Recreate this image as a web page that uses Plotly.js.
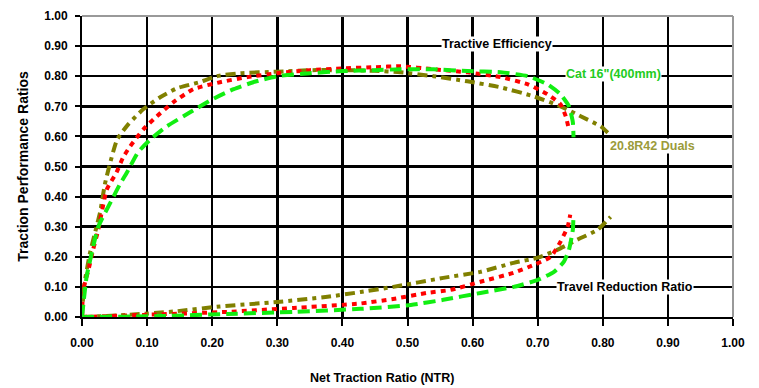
<!DOCTYPE html>
<html>
<head>
<meta charset="utf-8">
<script src="https://cdn.plot.ly/plotly-3.0.1.min.js"></script>
<style>html,body{margin:0;padding:0;background:#fff;}#chart{width:759px;height:388px;}</style>
</head>
<body>
<div id="chart"></div>
<script>
// Tractive efficiency curves
const duals_te_x = [0, 0.003, 0.012, 0.02, 0.028, 0.035, 0.043, 0.054, 0.071, 0.094, 0.12, 0.146, 0.18, 0.207, 0.243, 0.30, 0.35, 0.40, 0.45, 0.489, 0.54, 0.592, 0.643, 0.694, 0.735, 0.766, 0.797, 0.81];
const duals_te_y = [0, 0.10, 0.21, 0.28, 0.35, 0.44, 0.51, 0.59, 0.64, 0.69, 0.73, 0.76, 0.78, 0.80, 0.81, 0.815, 0.82, 0.82, 0.818, 0.813, 0.80, 0.783, 0.763, 0.733, 0.70, 0.667, 0.633, 0.607];
const red_te_x = [0, 0.002, 0.01, 0.017, 0.025, 0.038, 0.053, 0.063, 0.074, 0.094, 0.115, 0.14, 0.171, 0.212, 0.254, 0.30, 0.35, 0.40, 0.45, 0.489, 0.54, 0.592, 0.643, 0.685, 0.715, 0.735, 0.743, 0.748];
const red_te_y = [0, 0.09, 0.157, 0.223, 0.29, 0.423, 0.48, 0.53, 0.567, 0.623, 0.667, 0.713, 0.757, 0.78, 0.797, 0.81, 0.82, 0.826, 0.83, 0.833, 0.823, 0.813, 0.797, 0.773, 0.74, 0.707, 0.667, 0.623];
const cat_te_x = [0, 0.007, 0.015, 0.025, 0.046, 0.058, 0.069, 0.086, 0.105, 0.13, 0.166, 0.20, 0.233, 0.263, 0.30, 0.35, 0.40, 0.45, 0.489, 0.54, 0.592, 0.643, 0.685, 0.715, 0.735, 0.748, 0.754, 0.755];
const cat_te_y = [0, 0.133, 0.213, 0.30, 0.39, 0.44, 0.48, 0.547, 0.59, 0.633, 0.68, 0.723, 0.757, 0.78, 0.80, 0.81, 0.817, 0.82, 0.823, 0.823, 0.817, 0.813, 0.80, 0.773, 0.74, 0.70, 0.647, 0.597];
// Travel reduction curves
const duals_tr_x = [0, 0.069, 0.14, 0.212, 0.30, 0.377, 0.428, 0.478, 0.555, 0.612, 0.663, 0.70, 0.73, 0.761, 0.792, 0.812];
const duals_tr_y = [0, 0.007, 0.018, 0.035, 0.05, 0.067, 0.083, 0.10, 0.13, 0.15, 0.18, 0.197, 0.223, 0.257, 0.29, 0.333];
const red_tr_x = [0, 0.094, 0.223, 0.325, 0.428, 0.478, 0.53, 0.566, 0.612, 0.663, 0.694, 0.72, 0.735, 0.746, 0.75];
const red_tr_y = [0, 0.007, 0.017, 0.03, 0.045, 0.06, 0.08, 0.09, 0.117, 0.147, 0.173, 0.20, 0.25, 0.30, 0.34];
const cat_tr_x = [0, 0.12, 0.223, 0.325, 0.428, 0.505, 0.555, 0.612, 0.663, 0.70, 0.725, 0.74, 0.748, 0.754, 0.755];
const cat_tr_y = [0, 0.003, 0.01, 0.017, 0.027, 0.04, 0.057, 0.08, 0.10, 0.123, 0.15, 0.183, 0.223, 0.29, 0.34];

const labels = {
  te: 'Tractive Efficiency',
  tr: 'Travel Reduction Ratio',
  cat: 'Cat 16"(400mm)',
  duals: '20.8R42 Duals',
  xTitle: 'Net Traction Ratio (NTR)',
  yTitle: 'Traction Performance Ratios'
};

const OLIVE = '#808000', RED = '#ff0000', GREEN = '#11ee11';
const styleOlive = {color: OLIVE, width: 4, dash: '10px,5px,4px,5px', shape: 'spline', smoothing: 0.5};
const styleRed = {color: RED, width: 4, dash: '5px,5px', shape: 'spline', smoothing: 0.5};
const styleGreen = {color: GREEN, width: 4, dash: '12px,6px', shape: 'spline', smoothing: 0.5};

const traces = [
  {x: duals_tr_x, y: duals_tr_y, line: styleOlive},
  {x: red_tr_x, y: red_tr_y, line: styleRed},
  {x: cat_tr_x, y: cat_tr_y, line: styleGreen},
  {x: duals_te_x, y: duals_te_y, line: styleOlive},
  {x: red_te_x, y: red_te_y, line: styleRed},
  {x: cat_te_x, y: cat_te_y, line: styleGreen}
].map(t => Object.assign({type: 'scatter', mode: 'lines', hoverinfo: 'skip'}, t));

const FONT = 'Liberation Sans, Arial, sans-serif';
const tickFont = {family: FONT, size: 12, weight: 'bold', color: '#000'};
const annFont = (c) => ({family: FONT, size: 12.5, weight: 'bold', color: c});
const layout = {
  width: 759, height: 388,
  margin: {l: 82, r: 26, t: 16, b: 71},
  paper_bgcolor: '#fff', plot_bgcolor: '#fff',
  showlegend: false,
  font: {family: FONT, color: '#000', size: 12},
  xaxis: {
    range: [0, 1], dtick: 0.1, tick0: 0, tickformat: '.2f',
    showgrid: true, gridcolor: '#000', gridwidth: 2.5,
    zeroline: false, showline: true, linecolor: '#000', linewidth: 2,
    ticks: 'outside', ticklen: 7, tickwidth: 2, tickcolor: '#000',
    ticklabelstandoff: 7,
    tickfont: tickFont,
    automargin: false, fixedrange: true
  },
  yaxis: {
    range: [0, 1], dtick: 0.1, tick0: 0, tickformat: '.2f',
    showgrid: true, gridcolor: '#000', gridwidth: 2.5,
    zeroline: false, showline: true, linecolor: '#000', linewidth: 2,
    ticks: 'outside', ticklen: 5, tickwidth: 2, tickcolor: '#000',
    ticklabelstandoff: 5,
    tickfont: tickFont,
    title: {text: labels.yTitle, font: {family: FONT, size: 14, weight: 'bold', color: '#000'}, standoff: 12},
    automargin: false, fixedrange: true
  },
  shapes: [
    {type: 'line', xref: 'paper', yref: 'paper', x0: 0, x1: 1, y0: 1, y1: 1, line: {color: '#999', width: 2}},
    {type: 'line', xref: 'paper', yref: 'paper', x0: 1, x1: 1, y0: 0, y1: 1, line: {color: '#999', width: 2}}
  ],
  annotations: [
    {text: labels.te, x: 0.638, y: 0.907, font: annFont('#000')},
    {text: labels.cat, x: 0.817, y: 0.807, font: annFont('#22cc22')},
    {text: labels.duals, x: 0.876, y: 0.567, font: annFont('#9b9b3a')},
    {text: labels.tr, x: 0.834, y: 0.10, font: annFont('#000')}
  ].map(a => Object.assign({xref: 'x', yref: 'y', showarrow: false, bgcolor: '#fff', borderpad: 0, xanchor: 'center', yanchor: 'middle'}, a))
   .concat([{text: labels.xTitle, xref: 'paper', yref: 'paper', x: 0.461, y: -0.203, showarrow: false,
             xanchor: 'center', yanchor: 'middle', font: {family: FONT, size: 12.5, weight: 'bold', color: '#000'}}])
};

Plotly.newPlot('chart', traces, layout, {displayModeBar: false, staticPlot: true});
</script>
</body>
</html>
